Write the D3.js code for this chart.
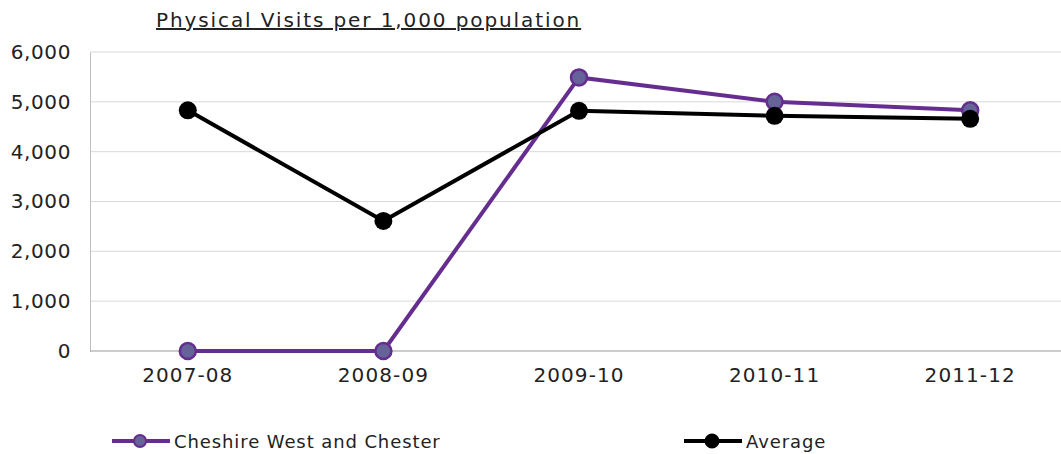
<!DOCTYPE html>
<html><head><meta charset="utf-8">
<script src="https://cdn.jsdelivr.net/npm/d3@7"></script>
<style>body{margin:0;background:#fff}svg{display:block}</style>
</head><body>
<svg id="chart" width="1061" height="454"></svg>
<script>
const categories = ["2007-08","2008-09","2009-10","2010-11","2011-12"];
const cheshire = [0, 0, 5490, 5000, 4830];
const average = [4830, 2610, 4820, 4720, 4660];
const yTicks = [0,1000,2000,3000,4000,5000,6000];
const seriesNames = ["Cheshire West and Chester","Average"];

(function(){
const svg = d3.select("#chart");
const pL = 90, pR = 1068, pT = 52, pB = 351;
const x = d3.scaleBand().domain(categories).range([pL, pR]);
const y = d3.scaleLinear().domain([0,6000]).range([pB, pT]);
const fmt = d3.format(",");
const FONT = "DejaVu Sans";

// gridlines
svg.append("g").selectAll("line").data(yTicks.filter(d=>d>0)).join("line")
  .attr("x1", pL).attr("x2", 1061).attr("y1", d=>y(d)).attr("y2", d=>y(d))
  .attr("stroke", "#d9d9d9").attr("stroke-width", 1);

// y axis
const ya = svg.append("g").attr("transform", `translate(${pL},0)`)
  .call(d3.axisLeft(y).tickValues(yTicks).tickFormat(fmt).tickSize(0).tickPadding(19));
ya.select(".domain").attr("stroke", "#bfbfbf");
ya.selectAll("text").attr("font-family",FONT).attr("font-size", 20)
  .attr("letter-spacing", 0.6).attr("fill","#222");

// x axis
const xa = svg.append("g").attr("transform", `translate(0,${pB})`)
  .call(d3.axisBottom(x).tickSize(0).tickPadding(17));
xa.select(".domain").attr("stroke", "#999").attr("d", `M${pL},0H1061`);
xa.selectAll("text").attr("font-family",FONT).attr("font-size", 20)
  .attr("letter-spacing", 1.1).attr("fill","#222");

const cx = d => x(d) + x.bandwidth()/2;
const line = d3.line().x((d,i)=>cx(categories[i])).y(d=>y(d));

svg.append("path").datum(cheshire).attr("d", line).attr("fill","none")
  .attr("stroke","#662d91").attr("stroke-width",4);
svg.append("path").datum(average).attr("d", line).attr("fill","none")
  .attr("stroke","#000").attr("stroke-width",4);

svg.append("g").selectAll("circle").data(cheshire).join("circle")
  .attr("cx",(d,i)=>cx(categories[i])).attr("cy",d=>y(d)).attr("r",8)
  .attr("fill","#656398").attr("stroke","#662d91").attr("stroke-width",2.5);
svg.append("g").selectAll("circle").data(average).join("circle")
  .attr("cx",(d,i)=>cx(categories[i])).attr("cy",d=>y(d)).attr("r",9)
  .attr("fill","#000");

// title
svg.append("text").attr("x", 156).attr("y", 27)
  .attr("font-family",FONT).attr("font-size",20).attr("letter-spacing", 1.9).attr("fill","#222")
  .attr("text-decoration","underline")
  .text("Physical Visits per 1,000 population");

// legend
const leg = [{name: seriesNames[0], x0: 112, color:"#662d91", fill:"#656398", r:6},
             {name: seriesNames[1], x0: 684, color:"#000", fill:"#000", r:6.5}];
const lg = svg.append("g");
leg.forEach(l => {
  const ly = 441;
  lg.append("line").attr("x1", l.x0).attr("x2", l.x0+58).attr("y1", ly).attr("y2", ly)
    .attr("stroke", l.color).attr("stroke-width", 4);
  lg.append("circle").attr("cx", l.x0+28).attr("cy", ly).attr("r", l.r)
    .attr("fill", l.fill).attr("stroke", l.color).attr("stroke-width", 2);
  lg.append("text").attr("x", l.x0+62).attr("y", ly+7)
    .attr("font-family",FONT).attr("font-size", 18).attr("letter-spacing", 0.9).attr("fill","#222")
    .text(l.name);
});
})();
</script>
</body></html>
